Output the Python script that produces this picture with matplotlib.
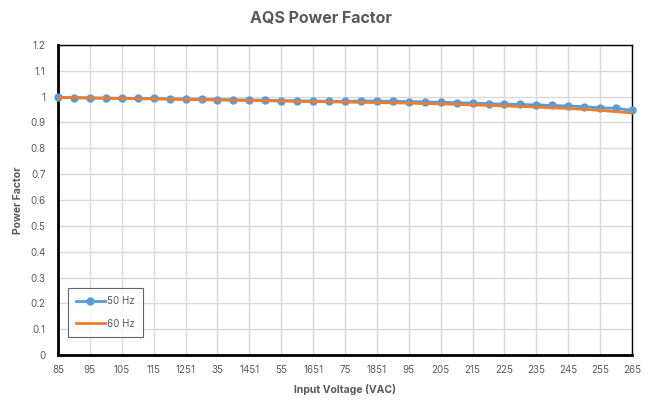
import matplotlib
matplotlib.use("Agg")
import matplotlib.pyplot as plt

plt.rcParams['font.family'] = ['Inter', 'DejaVu Sans']

voltage = list(range(85, 266, 5))
pf_50hz = [0.997, 0.996, 0.995, 0.994, 0.994, 0.993, 0.993, 0.992, 0.991, 0.990,
           0.989, 0.988, 0.987, 0.986, 0.985, 0.984, 0.983, 0.982, 0.982, 0.983,
           0.983, 0.982, 0.981, 0.980, 0.978, 0.977, 0.975, 0.973, 0.971, 0.970,
           0.968, 0.966, 0.964, 0.961, 0.957, 0.955, 0.947]
pf_60hz = [0.997, 0.996, 0.995, 0.994, 0.993, 0.992, 0.991, 0.990, 0.989, 0.988,
           0.987, 0.986, 0.985, 0.984, 0.983, 0.982, 0.981, 0.980, 0.979, 0.978,
           0.977, 0.976, 0.975, 0.973, 0.972, 0.970, 0.968, 0.966, 0.964, 0.962,
           0.960, 0.957, 0.954, 0.951, 0.947, 0.942, 0.937]
tick_pos = list(range(85, 266, 10))
tick_labels = ['85', '95', '105', '115', '1251', '35', '1451', '55', '1651', '75',
               '1851', '95', '205', '215', '225', '235', '245', '255', '265']
y_ticks = [0, 0.1, 0.2, 0.3, 0.4, 0.5, 0.6, 0.7, 0.8, 0.9, 1, 1.1, 1.2]
y_labels = ['0', '0.1', '0.2', '0.3', '0.4', '0.5', '0.6', '0.7', '0.8', '0.9', '1', '1.1', '1.2']

gray = '#595959'
fig = plt.figure(figsize=(6.54, 4.01), dpi=100)
ax = fig.add_axes([58 / 654, 1 - 355 / 401, (632 - 58) / 654, (355 - 45) / 401])

ax.plot(voltage, pf_50hz, color='#5B9BD5', lw=2, marker='o', ms=6, mew=0,
        label='50 Hz', zorder=3, clip_on=False)
ax.plot(voltage, pf_60hz, color='#ED7D31', lw=2, label='60 Hz', zorder=4)

ax.set_xlim(85, 265)
ax.set_ylim(0, 1.2)
ax.set_xticks(tick_pos)
ax.set_xticklabels(tick_labels)
ax.set_yticks(y_ticks)
ax.set_yticklabels(y_labels)
ax.tick_params(axis='x', length=0, labelsize=7, labelcolor=gray, pad=7)
ax.tick_params(axis='y', length=0, labelsize=7, labelcolor=gray, pad=9)
ax.grid(True, color='#d9d9d9', lw=1)
ax.set_axisbelow(True)

for side in ['top', 'right']:
    ax.spines[side].set_linewidth(1)
for side in ['left', 'bottom']:
    ax.spines[side].set_linewidth(2)
for s in ax.spines.values():
    s.set_color('black')

ax.set_xlabel('Input Voltage (VAC)', fontsize=7.5, fontweight='bold', color=gray, labelpad=7)
ax.set_ylabel('Power Factor', fontsize=7.5, fontweight='bold', color=gray, labelpad=5)
fig.text(0.49, 1 - 18 / 401, 'AQS Power Factor', ha='center', va='center',
         fontsize=11.5, fontweight='bold', color=gray)

leg = ax.legend(loc='lower left', bbox_to_anchor=(0.012, 0.05), fontsize=7,
                frameon=True, fancybox=False, borderpad=0.8, labelspacing=1.3,
                handlelength=3.0, handletextpad=0.25, borderaxespad=0.3)
leg.get_frame().set_edgecolor('#404040')
leg.get_frame().set_linewidth(0.8)
for t in leg.get_texts():
    t.set_color(gray)

fig.savefig('out.png', dpi=100)
